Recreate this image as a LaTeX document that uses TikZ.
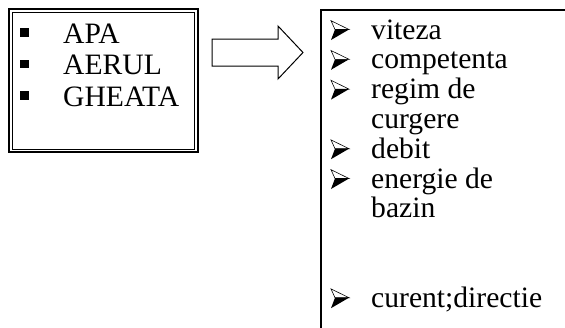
\documentclass[tikz,border=0pt]{standalone}
\usepackage{fontspec}
\setmainfont{Liberation Serif}
\begin{document}
\begin{tikzpicture}[x=1pt,y=-1pt,
  txt/.style={anchor=base west, inner sep=0pt, font=\fontsize{29.6}{30}\selectfont},
  sqbul/.style={fill=black},
  arrbul/.pic={
    \fill (0,1) -- (18,-9.5) -- (4,-9.5) -- cycle;
    \draw[line width=0.6pt, line join=miter] (0,-18.3) -- (18,-9.5) -- (4,-9.5) -- cycle;
  }]
\useasboundingbox (0,0) rectangle (565,327);
\clip (0,0) rectangle (565,327);
% left box (double frame)
\draw[line width=2pt] (9,9) rectangle (197.7,152.3);
\draw[line width=1pt] (12.5,12.5) rectangle (194.8,149.2);
% left list
\node[txt] (apa) at (63,43) {APA};
\node[txt] (aerul) at (63,74.5) {AERUL};
\node[txt] (gheata) at (63,106) {GHEATA};
\foreach \b in {43,74.5,106} {
  \fill[sqbul] (20,\b-15) rectangle (28.5,\b-6.5);
}
% block arrow
\draw[line width=1pt, line join=miter] (212,39) -- (278,39) -- (278,26) -- (303,52.5) -- (278,79) -- (278,66) -- (212,66) -- cycle;
% right box (open on right and bottom)
\draw[line width=1.8pt] (321,340) -- (321,10) -- (580,10);
% right list
\node[txt] (viteza) at (371,39) {viteza};
\node[txt] (comp) at (371,68.8) {competenta};
\node[txt] (regim) at (371,98.6) {regim de};
\node[txt] (curg) at (371,128.4) {curgere};
\node[txt] (debit) at (371,158.2) {debit};
\node[txt] (energ) at (371,188) {energie de};
\node[txt] (bazin) at (371,217.8) {bazin};
\node[txt] (curent) at (371,307.2) {curent;directie};
\foreach \b in {39,68.8,98.6,158.2,188,307.2} {
  \pic at (331,\b) {arrbul};
}
\end{tikzpicture}
\end{document}
